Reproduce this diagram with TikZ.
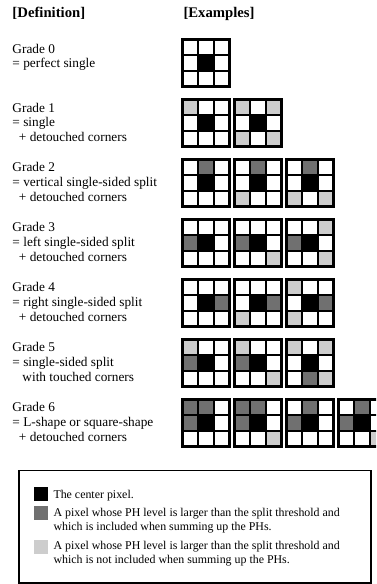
\documentclass[tikz,border=0pt]{standalone}
\usepackage{fontspec}
\setmainfont{Liberation Serif}
\definecolor{darkpix}{HTML}{707070}
\definecolor{lightpix}{HTML}{CDCDCD}
\newcommand\cs{15.6667}
\newcommand\pixgrid[3]{%
  \begin{scope}[shift={(#1,#2)}]
    \fill[white] (0,0) rectangle (47,47);
    \foreach \c/\r/\k in {#3} {\fill[\k] (\c*\cs,\r*\cs) rectangle ++(\cs,\cs);}
    \fill[black] (\cs,\cs) rectangle ++(\cs,\cs);
    \foreach \i in {1,2} {
      \draw[gridline] (\i*\cs,0) -- (\i*\cs,47);
      \draw[gridline] (0,\i*\cs) -- (47,\i*\cs);
    }
    \draw[gridline] (0,0) rectangle (47,47);
  \end{scope}}
\tikzset{
  gridline/.style={line width=2.3pt, black, line join=miter},
  hdr/.style={anchor=base west, inner sep=0pt, font=\fontsize{14.7}{17}\selectfont\bfseries},
  lbl/.style={anchor=base west, inner sep=0pt, font=\fontsize{13.3}{15}\selectfont},
  leg/.style={anchor=base west, inner sep=0pt, font=\fontsize{11.9}{13.5}\selectfont},
}
\begin{document}
\begin{tikzpicture}[x=1pt,y=-1pt]
\useasboundingbox (0,0) rectangle (376,584);
\clip (0,0) rectangle (376,584);
\fill[white] (0,0) rectangle (376,584);

% headers
\node[hdr] (hdef) at (12.3,17) {[Definition]};
\node[hdr] (hex) at (183.3,17) {[Examples]};

% grade labels
\node[lbl] (g0a) at (12.3,53.3) {Grade 0};
\node[lbl] (g0b) at (12.3,67.3) {= perfect single};

\node[lbl] (g1a) at (12.3,112) {Grade 1};
\node[lbl] (g1b) at (12.3,126.5) {= single};
\node[lbl] (g1c) at (18.8,141) {+ detouched corners};

\node[lbl] (g2a) at (12.3,171.5) {Grade 2};
\node[lbl] (g2b) at (12.3,186.5) {= vertical single-sided split};
\node[lbl] (g2c) at (18.8,201.5) {+ detouched corners};

\node[lbl] (g3a) at (12.3,231) {Grade 3};
\node[lbl] (g3b) at (12.3,246) {= left single-sided split};
\node[lbl] (g3c) at (18.8,261) {+ detouched corners};

\node[lbl] (g4a) at (12.3,291) {Grade 4};
\node[lbl] (g4b) at (12.3,306) {= right single-sided split};
\node[lbl] (g4c) at (18.8,321) {+ detouched corners};

\node[lbl] (g5a) at (12.3,351) {Grade 5};
\node[lbl] (g5b) at (12.3,366) {= single-sided split};
\node[lbl] (g5c) at (22.3,381) {with touched corners};

\node[lbl] (g6a) at (12.3,411) {Grade 6};
\node[lbl] (g6b) at (12.3,426) {= L-shape or square-shape};
\node[lbl] (g6c) at (18.8,441) {+ detouched corners};

% grids
\pixgrid{182.5}{39.5}{1/1/black}

\pixgrid{182.5}{99.5}{0/0/lightpix}
\pixgrid{234.5}{99.5}{0/0/lightpix,2/0/lightpix,0/2/lightpix,2/2/lightpix}

\pixgrid{182.5}{159.5}{1/0/darkpix}
\pixgrid{234.5}{159.5}{1/0/darkpix,0/2/lightpix}
\pixgrid{286.5}{159.5}{1/0/darkpix,0/2/lightpix,2/2/lightpix}

\pixgrid{182.5}{219.5}{0/1/darkpix}
\pixgrid{234.5}{219.5}{0/1/darkpix,2/2/lightpix}
\pixgrid{286.5}{219.5}{0/1/darkpix,2/0/lightpix,2/2/lightpix}

\pixgrid{182.5}{279.5}{2/1/darkpix}
\pixgrid{234.5}{279.5}{2/1/darkpix,0/2/lightpix}
\pixgrid{286.5}{279.5}{2/1/darkpix,0/0/lightpix,0/2/lightpix}

\pixgrid{182.5}{339.5}{0/0/lightpix,0/1/darkpix}
\pixgrid{234.5}{339.5}{0/0/lightpix,0/1/darkpix,2/2/lightpix}
\pixgrid{286.5}{339.5}{0/0/lightpix,2/0/lightpix,1/2/darkpix,2/2/lightpix}

\pixgrid{182.5}{399.5}{0/0/darkpix,1/0/darkpix,0/1/darkpix}
\pixgrid{234.5}{399.5}{0/0/darkpix,1/0/darkpix,0/1/darkpix,2/2/lightpix}
\pixgrid{286.5}{399.5}{1/0/darkpix,0/1/darkpix}
\pixgrid{338.5}{399.5}{1/0/darkpix,0/1/darkpix,2/2/lightpix}

% legend
\draw[line width=1.6pt] (18.8,470.3) rectangle (370.8,582.8);
\fill[black] (34,486.5) rectangle (48.3,500.7);
\fill[darkpix] (34,505.5) rectangle (48.3,519.7);
\fill[lightpix] (34,539.8) rectangle (48.3,554);
\node[leg] (l1) at (53.3,498.5) {The center pixel.};
\node[leg] (l2) at (53.3,516.7) {A pixel whose PH level is larger than the split threshold and};
\node[leg] (l3) at (53.3,530.2) {which is included when summing up the PHs.};
\node[leg] (l4) at (53.3,549.5) {A pixel whose PH level is larger than the split threshold and};
\node[leg] (l5) at (53.3,563) {which is not included when summing up the PHs.};
\end{tikzpicture}
\end{document}
